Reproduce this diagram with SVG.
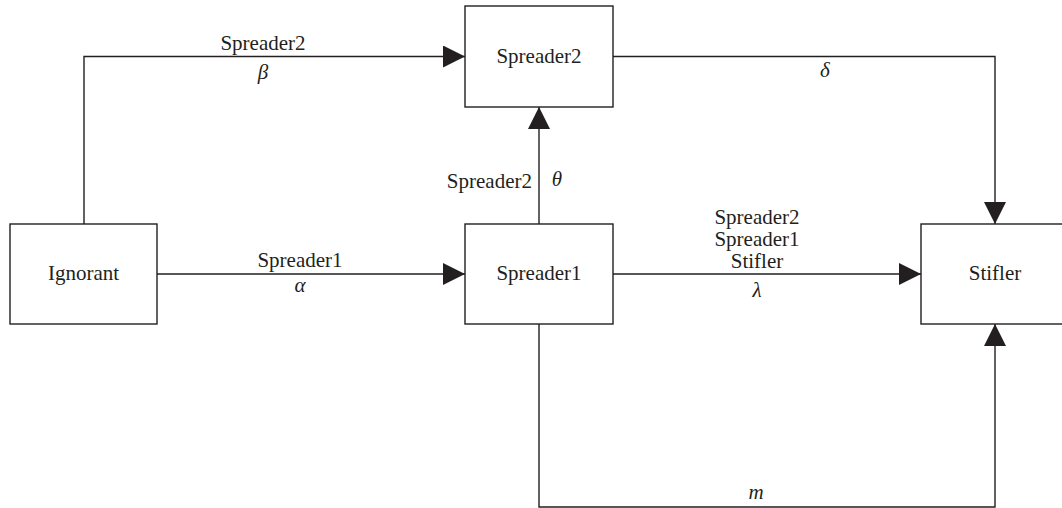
<svg xmlns="http://www.w3.org/2000/svg" width="1062" height="508" viewBox="0 0 1062 508">
<style>
.box{fill:#fff;stroke:#231f20;stroke-width:1.4}
.ln{fill:none;stroke:#231f20;stroke-width:1.4}
text{font-family:"Liberation Serif","Times New Roman",serif;font-size:21px;fill:#231f20}
.c{text-anchor:middle}
.e{text-anchor:end}
.g{font-style:italic}
</style>
<defs>
<marker id="ah" markerWidth="22" markerHeight="22" viewBox="0 0 22 22" refX="22" refY="11" orient="auto" markerUnits="userSpaceOnUse">
<path d="M0,0 L22,11 L0,22 Z" fill="#231f20"/>
</marker>
</defs>
<rect width="1062" height="508" fill="#fff"/>
<g id="connectors">
<path class="ln" d="M84,224 V56.5 H465" marker-end="url(#ah)"/>
<path class="ln" d="M157,274 H465" marker-end="url(#ah)"/>
<path class="ln" d="M539,224 V107" marker-end="url(#ah)"/>
<path class="ln" d="M613,56.5 H995 V224" marker-end="url(#ah)"/>
<path class="ln" d="M613,274 H921" marker-end="url(#ah)"/>
<path class="ln" d="M539,324 V507 H995 V324" marker-end="url(#ah)"/>
<text class="c" x="263" y="49.5">Spreader2</text>
<text class="c g" x="263" y="79">β</text>
<text class="c" x="300" y="266.5">Spreader1</text>
<text class="c g" x="300" y="292">α</text>
<text class="e" x="532" y="188">Spreader2</text>
<text class="c g" x="557" y="186">θ</text>
<text class="c g" x="825" y="77">δ</text>
<text class="c" x="757" y="224">Spreader2</text>
<text class="c" x="757" y="246">Spreader1</text>
<text class="c" x="757" y="268">Stifler</text>
<text class="c g" x="757" y="297">λ</text>
<text class="c g" x="756" y="499">m</text>
</g>
<g id="ignorant">
<rect class="box" x="10" y="224" width="147" height="100"/>
<text class="c" x="83.5" y="280">Ignorant</text>
</g>
<g id="spreader1">
<rect class="box" x="465" y="224" width="148" height="100"/>
<text class="c" x="539" y="280">Spreader1</text>
</g>
<g id="spreader2">
<rect class="box" x="465" y="6" width="148" height="101"/>
<text class="c" x="539" y="63">Spreader2</text>
</g>
<g id="stifler">
<rect class="box" x="921" y="224" width="148" height="100"/>
<text class="c" x="995" y="280">Stifler</text>
</g>
</svg>
